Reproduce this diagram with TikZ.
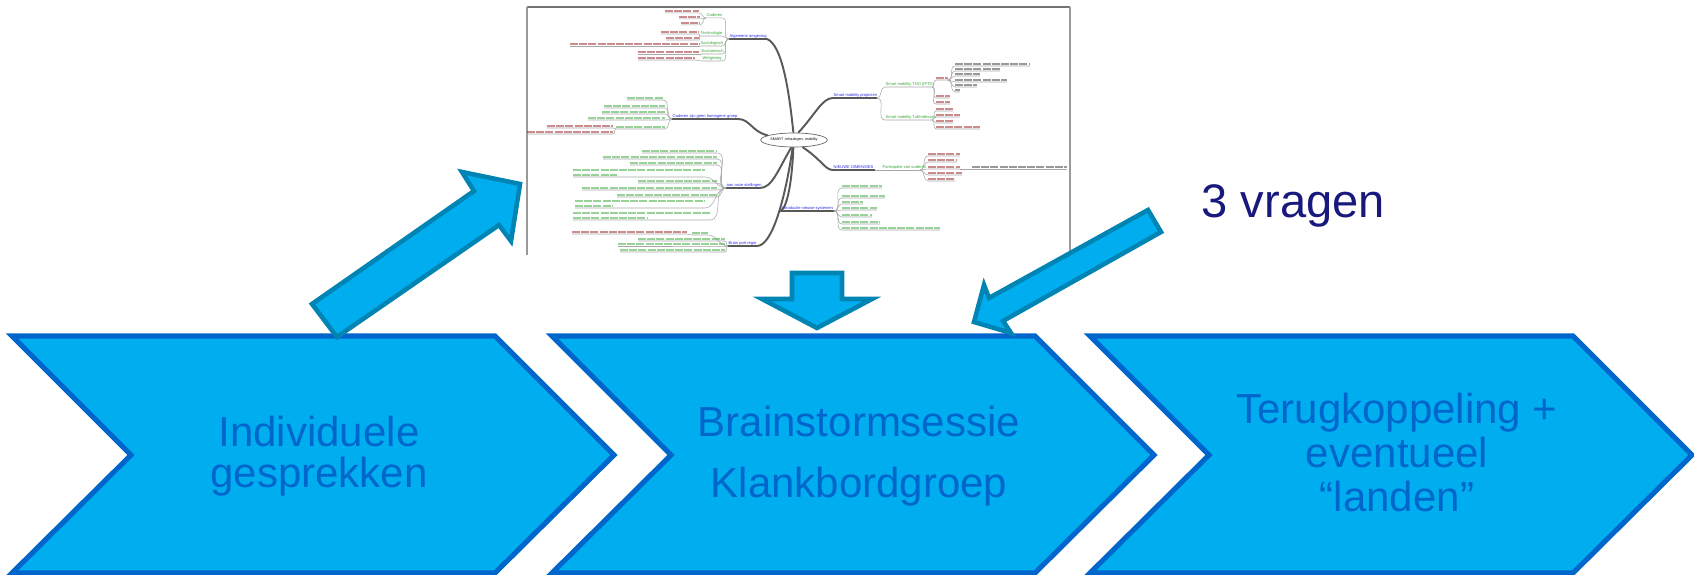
\documentclass[tikz,border=0pt]{standalone}
\usepackage{fontspec}
\setmainfont{Liberation Sans}
\usetikzlibrary{shapes.geometric}

\definecolor{stapvul}{RGB}{0,174,239}
\definecolor{staprand}{RGB}{0,102,204}
\definecolor{pijlrand}{RGB}{0,132,180}
\definecolor{vraagblauw}{RGB}{25,25,125}
\definecolor{mmblauw}{RGB}{40,40,230}
\definecolor{mmgroen}{RGB}{50,165,50}
\definecolor{mmrood}{RGB}{150,25,25}

\tikzset{
  stap/.style={draw=staprand, fill=stapvul, line width=1.45pt, line join=miter},
  staptekst/.style={text=staprand, align=center, inner sep=0pt, font=\fontsize{11.95}{11.67}\selectfont},
  blokpijl/.style={draw=pijlrand, fill=stapvul, line width=1.3pt, line join=miter},
  mmtak/.style={draw=black!65, line width=0.55pt},
  mmlink/.style={draw=black!35, line width=0.15pt},
  mmtekst/.style={line width=0.5pt, opacity=0.5, dash pattern=on 0.8mm off 0.12mm},
  mmlabel/.style={inner sep=0pt, anchor=base west, font=\fontsize{1.15}{1.4}\selectfont},
}

% blad links/rechts van een knooppunt: junctie (#1,#2), tekst van #3 tot #4, lijn op #5
\newcommand{\bladL}[6]{%
  \draw[mmlink] (#1,#2) to[out=180,in=0] (#4,#5) -- (#3,#5);
  \draw[mmtekst, draw=#6] (#3,#5-2) -- (#4,#5-2);}
\newcommand{\bladR}[6]{%
  \draw[mmlink] (#1,#2) to[out=0,in=180] (#3,#5) -- (#4,#5);
  \draw[mmtekst, draw=#6] (#3,#5-2) -- (#4,#5-2);}

\begin{document}
\begin{tikzpicture}[x=0.1mm, y=-0.1mm]
  \useasboundingbox (0,0) rectangle (1694,575);

  % Drie stappen (chevrons)
  \foreach \x in {12,552,1090}
    \draw[stap] (\x,336) -- ++(483,0) -- ++(119,119) -- ++(-119,118) -- ++(-483,0) -- ++(119,-118) -- cycle;

  \node[staptekst] (stap1) at (319,456.6) {Individuele\\gesprekken};
  \node[staptekst, font=\fontsize{11.95}{17.44}\selectfont] (stap2) at (859,456.4) {Brainstormsessie\\Klankbordgroep};
  \node[staptekst, font=\fontsize{11.95}{12.52}\selectfont] (stap3) at (1397,452.7) {Terugkoppeling +\\eventueel\\“landen”};

  \node[anchor=base west, inner sep=0pt, text=vraagblauw, font=\fontsize{13.4}{16}\selectfont] (vragen) at (1201,218) {3 vragen};

  % Schermafdruk mindmap
  \draw[black!55, line width=0.55pt] (527,7) -- (1070,7);
  \draw[black!40, line width=0.3pt] (527,7) -- (527,255) (1070,7) -- (1070,251);

  \node[ellipse, draw=black!60, line width=0.2pt, fill=white, inner sep=0pt, minimum height=0.14cm,
        font=\fontsize{1.05}{1.3}\selectfont] (kern) at (794,140) {SMART -inhaalrgen- mobility};

  % Algemene omgeving
  \draw[mmtak] (kern.95) .. controls (789,90) and (782,45) .. (767,39) -- (729,39);
  \node[mmlabel, text=mmblauw] (algemeen) at (729,37.8) {Algemene omgeving};
  \foreach \a/\b/\c/\t in {706/722/18/Ouderen, 700/722/36/Technologie, 700/722/46/Sociologisch,
                           701/722/54/Economisch, 702/722/61/Wetgeving} {
    \draw[mmlink] (729,39) to[out=180,in=0] (\b,\c) -- (\a,\c);
    \node[mmlabel, text=mmgroen] (alg-\c) at (\a,\c-1.2) {\t};
  }
  \foreach \a/\b/\c in {665/699/13, 679/700/19, 681/700/25} \bladL{706}{18}{\a}{\b}{\c}{mmrood};
  \foreach \a/\b/\c in {661/699/34, 666/699/40} \bladL{700}{36}{\a}{\b}{\c}{mmrood};
  \bladL{700}{46}{570}{699}{46}{mmrood};
  \bladL{701}{54}{638}{699}{54}{mmrood};
  \bladL{702}{61}{638}{695}{60}{mmrood};

  % Ouderen zijn geen homogene groep
  \draw[mmtak] (kern.170) .. controls (752,132) and (750,119) .. (738,119) -- (672,119);
  \node[mmlabel, text=mmblauw] (groep) at (672,117.8) {Ouderen zijn geen homogene groep};
  \foreach \a/\b/\c in {627/663/100, 604/665/108, 602/665/114, 588/665/120, 616/665/129}
    \bladL{672}{119}{\a}{\b}{\c}{mmgroen};
  \foreach \a/\b/\c in {547/613/128, 527/613/134} \bladL{616}{129}{\a}{\b}{\c}{mmrood};

  % aan onze stellingen
  \draw[mmtak] (kern.250) .. controls (778,170) and (772,188) .. (760,188) -- (726,188);
  \node[mmlabel, text=mmblauw] (stellingen) at (726,186.8) {aan onze stellingen};
  \foreach \a/\b/\c in {642/717/153, 603/717/159, 630/717/165, 638/717/183, 582/717/190, 617/717/197}
    \bladL{726}{188}{\a}{\b}{\c}{mmgroen};
  \foreach \a/\b/\c/\d in {573/705/177/617, 575/705/208/613, 573/710/220/648} {
    \draw[mmlink] (726,188) to[out=180,in=0] (\b,\c) -- (\a,\c);
    \draw[mmtekst, draw=mmgroen] (\a,\c-7) -- (\b,\c-7) (\a,\c-2) -- (\d,\c-2);
  }

  % Brain port regio
  \draw[mmtak] (kern.260) .. controls (785,200) and (772,246) .. (757,246) -- (728,246);
  \node[mmlabel, text=mmblauw] (brainport) at (728,244.8) {Brain port regio};
  \foreach \a/\b/\c in {692/708/235, 638/725/241, 618/725/246, 620/725/252}
    \bladL{728}{246}{\a}{\b}{\c}{mmgroen};
  \bladL{692}{235}{572}{687}{234}{mmrood};

  % Smart mobility projecten
  \draw[mmtak] (kern.60) .. controls (815,115) and (822,98) .. (833,98) -- (877,98);
  \node[mmlabel, text=mmblauw] (projecten) at (833,96.8) {Smart mobility projecten};
  \draw[mmlink] (877,98) to[out=0,in=180] (885,87) -- (932,87);
  \node[mmlabel, text=mmgroen] (tno) at (885,85.8) {Smart mobility TNO (IPTG)};
  \draw[mmlink] (877,98) to[out=0,in=180] (885,120) -- (932,120);
  \node[mmlabel, text=mmgroen] (tue) at (885,118.8) {Smart mobility TuEindhoven};
  \foreach \a/\b/\c in {936/948/80, 936/950/98, 936/950/104} \bladR{932}{87}{\a}{\b}{\c}{mmrood};
  \foreach \a/\b/\c in {955/1030/66, 955/1000/71, 955/980/76, 955/1007/82, 955/977/87, 955/960/92}
    \bladR{948}{80}{\a}{\b}{\c}{black!80};
  \foreach \a/\b/\c in {936/953/111, 936/960/117, 936/953/123, 936/980/129} \bladR{932}{120}{\a}{\b}{\c}{mmrood};

  % NIEUWE DIMENSIES
  \draw[mmtak] (kern.-40) .. controls (822,160) and (825,170) .. (833,170) -- (875,170);
  \node[mmlabel, text=mmblauw] (dimensies) at (833,168.8) {NIEUWE DIMENSIES};
  \draw[mmlink] (875,170) -- (920,170);
  \node[mmlabel, text=mmgroen] (participatie) at (882,168.8) {Participatie van ouderen};
  \foreach \a/\b/\c in {928/960/156, 928/957/162, 928/960/169, 928/962/175, 928/955/181}
    \bladR{920}{170}{\a}{\b}{\c}{mmrood};
  \bladR{960}{169}{972}{1067}{169}{black!80};

  % Introductie nieuwe systemen
  \draw[mmtak] (kern.265) .. controls (792,180) and (788,205) .. (781,211) -- (834,211);
  \node[mmlabel, text=mmblauw] (introductie) at (781,209.8) {Introductie nieuwe systemen};
  \foreach \a/\b/\c in {842/882/188, 842/885/198, 842/863/204, 842/877/210, 842/872/217, 842/880/224, 842/940/230}
    \bladR{834}{211}{\a}{\b}{\c}{mmgroen};

  % Blokpijlen
  \draw[blokpijl] (312,304) -- (474,191) -- (462,172) -- (520,184) -- (511,241) -- (499,225) -- (337,337) -- cycle;
  \draw[blokpijl] (792,273) -- (842,273) -- (842,299) -- (872,299) -- (817,328) -- (762,299) -- (792,299) -- cycle;
  \draw[blokpijl] (1148,210) -- (1161,232) -- (1003,321) -- (1011,333) -- (974,322) -- (984,285) -- (989,298) -- cycle;

\end{tikzpicture}
\end{document}
